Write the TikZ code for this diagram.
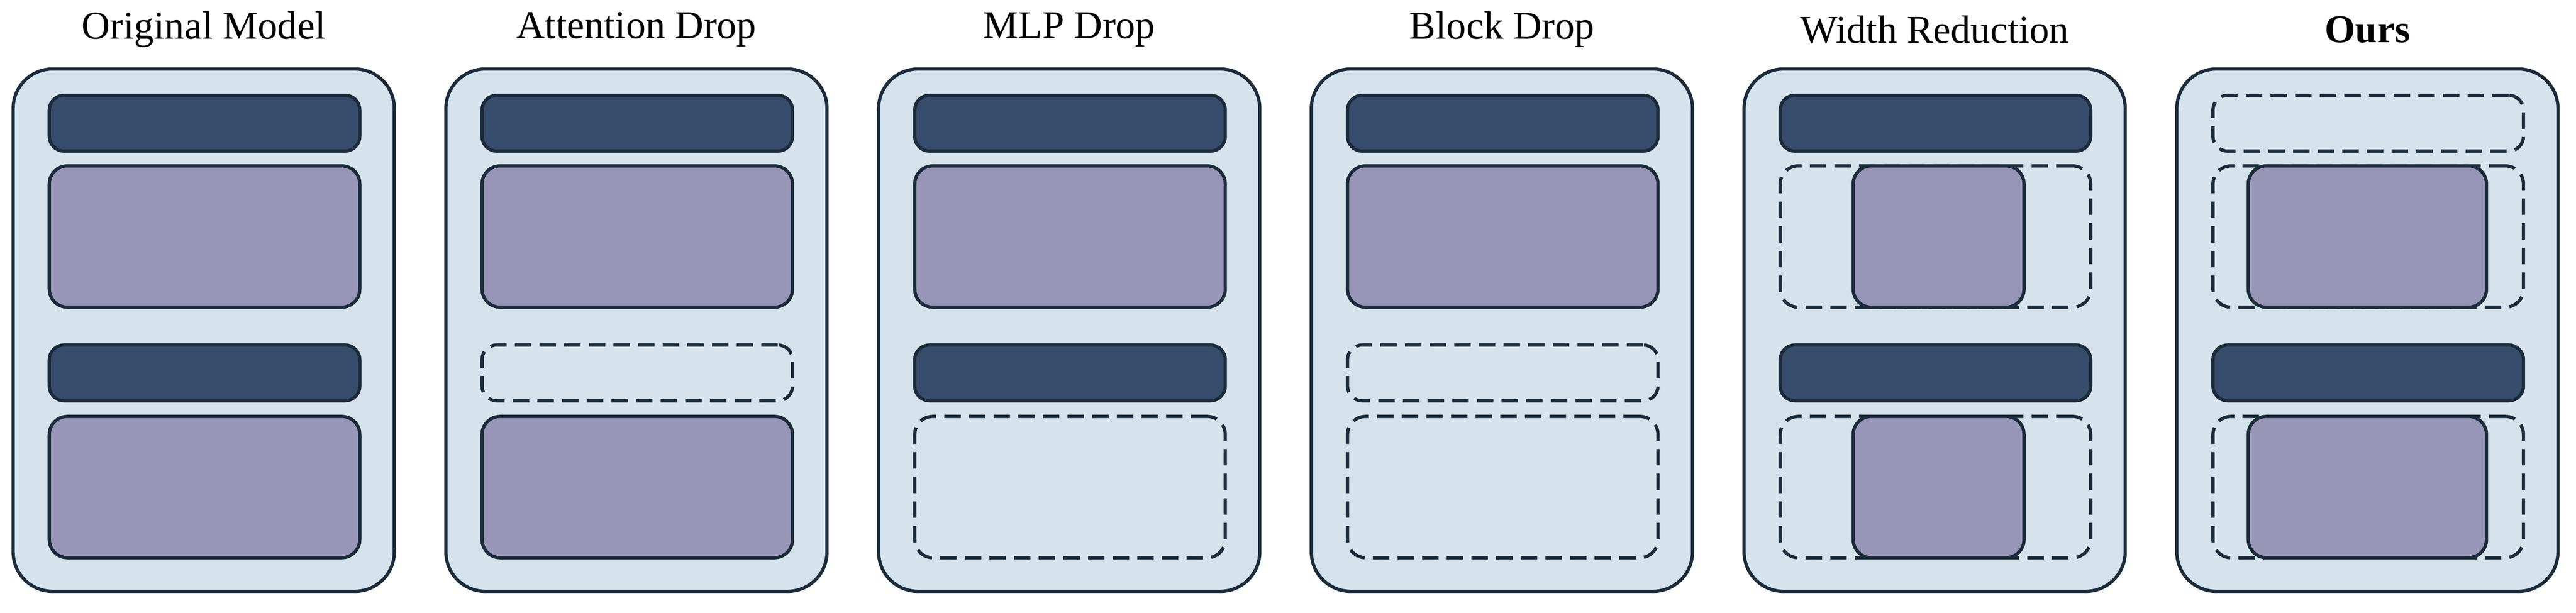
\documentclass[tikz,border=0pt]{standalone}
\usepackage{fontspec}
\setmainfont{Liberation Serif}
\usetikzlibrary{positioning}
\definecolor{panelbg}{HTML}{D6E3EC}
\definecolor{attncol}{HTML}{374C6B}
\definecolor{mlpcol}{HTML}{9896B6}
\definecolor{edgecol}{HTML}{1C2B3A}

\begin{document}
\begin{tikzpicture}[x=1pt, y=-1pt,
    panel/.style={rectangle, rounded corners=24pt, draw=edgecol, fill=panelbg, line width=2pt, minimum width=232pt, minimum height=318pt, inner sep=0pt},
    attn/.style={rectangle, rounded corners=9pt, draw=edgecol, fill=attncol, line width=2pt, minimum width=189pt, minimum height=34pt, inner sep=0pt},
    mlp/.style={rectangle, rounded corners=11pt, draw=edgecol, fill=mlpcol, line width=2pt, minimum width=189pt, minimum height=86pt, inner sep=0pt},
    dropattn/.style={attn, fill=none, dash pattern=on 10pt off 5pt},
    dropmlp/.style={mlp, fill=none, dash pattern=on 10pt off 5pt},
    title/.style={font=\fontsize{24}{28}\selectfont}
    ]
        \useasboundingbox (0,0) rectangle (1568,373);

        %Panels and titles
        \foreach \i/\name in {0/Original Model, 1/Attention Drop, 2/MLP Drop, 3/Block Drop, 4/Width Reduction, 5/\textbf{Ours}} {
            \node[panel] (p\i) at (124+263.4*\i, 201) {};
            \node[title] (t\i) at (124+263.4*\i, 18) {\name};
        }

        %Original Model
        \node[attn] (a01) at (124.5, 75) {};
        \node[mlp]  (m01) at (124.5, 144) {};
        \node[attn] (a02) at (124.5, 227) {};
        \node[mlp]  (m02) at (124.5, 296.5) {};

        %Attention Drop
        \node[attn]     (a11) at (387.9, 75) {};
        \node[mlp]      (m11) at (387.9, 144) {};
        \node[dropattn] (a12) at (387.9, 227) {};
        \node[mlp]      (m12) at (387.9, 296.5) {};

        %MLP Drop
        \node[attn]    (a21) at (651.3, 75) {};
        \node[mlp]     (m21) at (651.3, 144) {};
        \node[attn]    (a22) at (651.3, 227) {};
        \node[dropmlp] (m22) at (651.3, 296.5) {};

        %Block Drop
        \node[attn]     (a31) at (914.7, 75) {};
        \node[mlp]      (m31) at (914.7, 144) {};
        \node[dropattn] (a32) at (914.7, 227) {};
        \node[dropmlp]  (m32) at (914.7, 296.5) {};

        %Width Reduction
        \node[attn]    (a41) at (1178.1, 75) {};
        \node[dropmlp] (d41) at (1178.1, 144) {};
        \node[mlp, minimum width=104pt] (m41) at (1180, 144) {};
        \node[attn]    (a42) at (1178.1, 227) {};
        \node[dropmlp] (d42) at (1178.1, 296.5) {};
        \node[mlp, minimum width=104pt] (m42) at (1180, 296.5) {};

        %Ours
        \node[dropattn] (a51) at (1441.5, 75) {};
        \node[dropmlp]  (d51) at (1441.5, 144) {};
        \node[mlp, minimum width=145pt] (m51) at (1441, 144) {};
        \node[attn]     (a52) at (1441.5, 227) {};
        \node[dropmlp]  (d52) at (1441.5, 296.5) {};
        \node[mlp, minimum width=145pt] (m52) at (1441, 296.5) {};
    \end{tikzpicture}
\end{document}
